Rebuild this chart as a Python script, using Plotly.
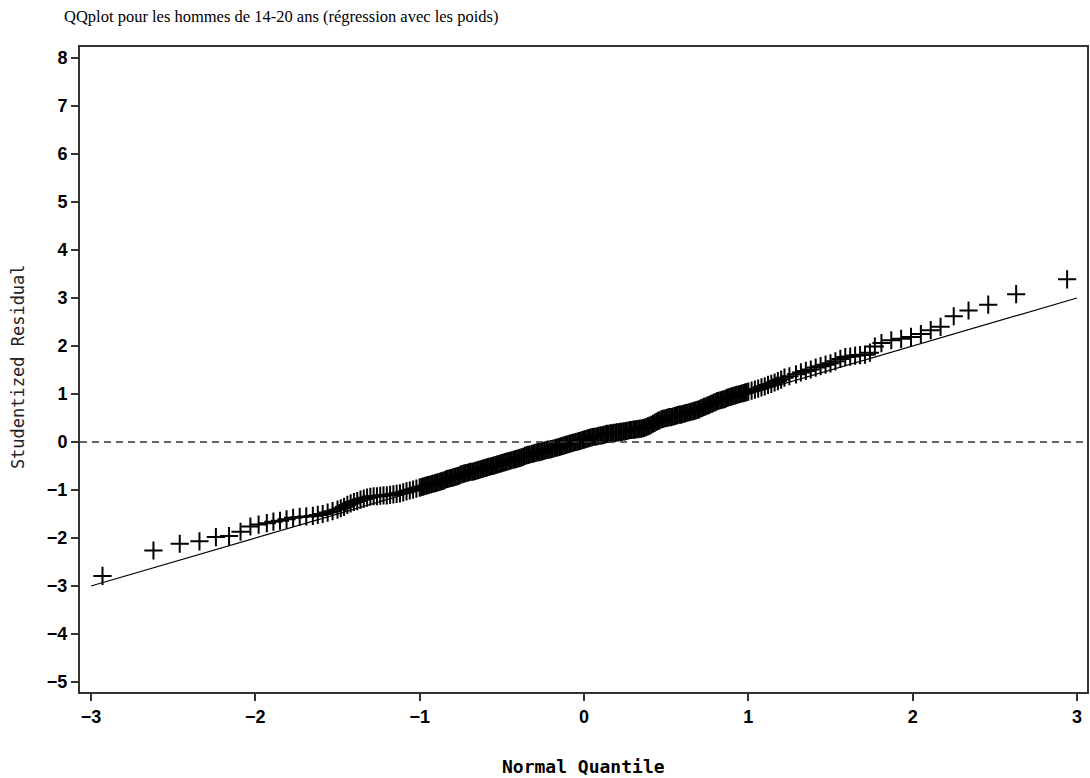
import plotly.graph_objects as go

# Normal quantiles (x) and studentized residuals (y)
quantile = [
    -2.93, -2.62, -2.46, -2.34, -2.24, -2.16, -2.09, -2.03, -1.98, -1.93,
    -1.89, -1.85, -1.81, -1.77, -1.73, -1.69, -1.65, -1.62, -1.59, -1.56,
    -1.53, -1.50, -1.48, -1.46, -1.44, -1.42, -1.40, -1.38, -1.36, -1.34,
    -1.32, -1.30, -1.28, -1.26, -1.24, -1.22, -1.20, -1.18, -1.16, -1.14,
    -1.12, -1.10, -1.08, -1.06, -1.04, -1.02,
    -1.00, -0.99, -0.98, -0.97, -0.96, -0.95, -0.94, -0.93, -0.92, -0.91,
    -0.90, -0.89, -0.88, -0.87, -0.86, -0.85, -0.84, -0.83, -0.82, -0.81,
    -0.80, -0.79, -0.78, -0.77, -0.76, -0.75, -0.74, -0.73, -0.72, -0.71,
    -0.70, -0.69, -0.68, -0.67, -0.66, -0.65, -0.64, -0.63, -0.62, -0.61,
    -0.60, -0.59, -0.58, -0.57, -0.56, -0.55, -0.54, -0.53, -0.52, -0.51,
    -0.50, -0.49, -0.48, -0.47, -0.46, -0.45, -0.44, -0.43, -0.42, -0.41,
    -0.40, -0.39, -0.38, -0.37, -0.36, -0.35, -0.34, -0.33, -0.32, -0.31,
    -0.30, -0.29, -0.28, -0.27, -0.26, -0.25, -0.24, -0.23, -0.22, -0.21,
    -0.20, -0.19, -0.18, -0.17, -0.16, -0.15, -0.14, -0.13, -0.12, -0.11,
    -0.10, -0.09, -0.08, -0.07, -0.06, -0.05, -0.04, -0.03, -0.02, -0.01,
    0.00, 0.01, 0.02, 0.03, 0.04, 0.05, 0.06, 0.07, 0.08, 0.09,
    0.10, 0.11, 0.12, 0.13, 0.14, 0.15, 0.16, 0.17, 0.18, 0.19,
    0.20, 0.21, 0.22, 0.23, 0.24, 0.25, 0.26, 0.27, 0.28, 0.29,
    0.30, 0.31, 0.32, 0.33, 0.34, 0.35, 0.36, 0.37, 0.38, 0.39,
    0.40, 0.41, 0.42, 0.43, 0.44, 0.45, 0.46, 0.47, 0.48, 0.49,
    0.50, 0.51, 0.52, 0.53, 0.54, 0.55, 0.56, 0.57, 0.58, 0.59,
    0.60, 0.61, 0.62, 0.63, 0.64, 0.65, 0.66, 0.67, 0.68, 0.69,
    0.70, 0.71, 0.72, 0.73, 0.74, 0.75, 0.76, 0.77, 0.78, 0.79,
    0.80, 0.81, 0.82, 0.83, 0.84, 0.85, 0.86, 0.87, 0.88, 0.89,
    0.90, 0.91, 0.92, 0.93, 0.94, 0.95, 0.96, 0.97, 0.98, 0.99,
    1.00, 1.02, 1.04, 1.06, 1.08, 1.10, 1.12, 1.14, 1.16, 1.18,
    1.20, 1.22, 1.25, 1.29, 1.32, 1.35, 1.38, 1.41, 1.44, 1.47,
    1.50, 1.53, 1.56, 1.59, 1.62, 1.65, 1.68, 1.71, 1.74, 1.77,
    1.81, 1.87, 1.93, 1.99, 2.05, 2.11, 2.17, 2.25, 2.34, 2.46,
    2.63, 2.94,
]
residual = [
    -2.79, -2.26, -2.12, -2.07, -1.98, -1.96, -1.87, -1.76, -1.72, -1.69,
    -1.66, -1.64, -1.61, -1.58, -1.56, -1.55, -1.54, -1.52, -1.50, -1.47,
    -1.44, -1.41, -1.38, -1.35, -1.31, -1.28, -1.25, -1.23, -1.20, -1.18,
    -1.16, -1.14, -1.13, -1.13, -1.12, -1.11, -1.11, -1.10, -1.09, -1.08,
    -1.07, -1.05, -1.03, -1.01, -0.99, -0.97,
    -0.95, -0.94, -0.93, -0.92, -0.91, -0.90, -0.89, -0.88, -0.87, -0.86,
    -0.85, -0.84, -0.83, -0.82, -0.81, -0.80, -0.78, -0.77, -0.76, -0.75,
    -0.74, -0.73, -0.72, -0.71, -0.70, -0.68, -0.67, -0.66, -0.65, -0.64,
    -0.63, -0.62, -0.62, -0.61, -0.60, -0.59, -0.58, -0.57, -0.56, -0.55,
    -0.54, -0.53, -0.52, -0.51, -0.50, -0.49, -0.48, -0.47, -0.46, -0.45,
    -0.44, -0.43, -0.42, -0.41, -0.40, -0.39, -0.38, -0.37, -0.36, -0.35,
    -0.34, -0.33, -0.32, -0.31, -0.29, -0.28, -0.27, -0.26, -0.25, -0.24,
    -0.23, -0.22, -0.21, -0.21, -0.20, -0.19, -0.18, -0.17, -0.16, -0.16,
    -0.15, -0.14, -0.13, -0.12, -0.11, -0.10, -0.09, -0.08, -0.07, -0.06,
    -0.05, -0.04, -0.03, -0.02, -0.01, 0.00, 0.01, 0.02, 0.03, 0.04,
    0.05, 0.06, 0.07, 0.08, 0.09, 0.10, 0.11, 0.11, 0.12, 0.13,
    0.14, 0.14, 0.15, 0.16, 0.17, 0.17, 0.18, 0.18, 0.19, 0.19,
    0.20, 0.20, 0.21, 0.21, 0.22, 0.22, 0.23, 0.24, 0.25, 0.25,
    0.26, 0.26, 0.27, 0.27, 0.28, 0.28, 0.29, 0.30, 0.31, 0.33,
    0.34, 0.36, 0.38, 0.40, 0.42, 0.44, 0.45, 0.47, 0.48, 0.49,
    0.50, 0.51, 0.52, 0.52, 0.53, 0.54, 0.55, 0.56, 0.57, 0.57,
    0.58, 0.59, 0.60, 0.61, 0.62, 0.63, 0.64, 0.65, 0.66, 0.67,
    0.68, 0.70, 0.71, 0.73, 0.74, 0.76, 0.77, 0.79, 0.80, 0.82,
    0.83, 0.85, 0.86, 0.87, 0.88, 0.89, 0.90, 0.92, 0.93, 0.94,
    0.95, 0.96, 0.97, 0.98, 0.99, 1.00, 1.01, 1.02, 1.03, 1.04,
    1.05, 1.07, 1.09, 1.11, 1.14, 1.16, 1.19, 1.21, 1.24, 1.27,
    1.30, 1.34, 1.37, 1.41, 1.45, 1.48, 1.51, 1.55, 1.58, 1.61,
    1.64, 1.68, 1.73, 1.77, 1.78, 1.80, 1.81, 1.82, 1.86, 1.99,
    2.06, 2.12, 2.15, 2.19, 2.25, 2.33, 2.40, 2.62, 2.74, 2.86,
    3.08, 3.39,
]

# Reference line
ref_x = [-3, 3]
ref_y = [-3, 3]

x_ticks = [-3, -2, -1, 0, 1, 2, 3]
y_ticks = [8, 7, 6, 5, 4, 3, 2, 1, 0, -1, -2, -3, -4, -5]

title_text = "QQplot pour les hommes de 14-20 ans (régression avec les poids)"
x_title = "Normal Quantile"
y_title = "Studentized Residual"

fig = go.Figure()

fig.add_trace(go.Scatter(
    x=ref_x, y=ref_y, mode="lines",
    line=dict(color="black", width=1.2),
    hoverinfo="skip", showlegend=False,
))

fig.add_trace(go.Scatter(
    x=quantile, y=residual, mode="markers",
    marker=dict(symbol="cross-thin", size=13, color="black",
                line=dict(color="black", width=2)),
    hoverinfo="skip", showlegend=False,
))

fig.add_hline(y=0, line=dict(color="#333333", width=1.5, dash="7px,5px"))

axis_common = dict(
    showgrid=False, zeroline=False,
    showline=True, mirror=True, linecolor="#333333", linewidth=2,
    ticks="outside", ticklen=7, tickwidth=1.5, tickcolor="#333333",
    tickfont=dict(family="Liberation Sans", size=18,
                  color="black", weight="bold"),
)

fig.update_xaxes(range=[-3.067, 3.061], tickvals=x_ticks,
                 ticktext=[str(v).replace("-", "\u2212") for v in x_ticks],
                 **axis_common)
fig.update_yaxes(range=[-5.208, 8.229], tickvals=y_ticks,
                 ticktext=[str(v).replace("-", "\u2212") for v in y_ticks],
                 **axis_common)

fig.add_annotation(
    text=y_title, xref="paper", yref="paper",
    x=(18 - 80) / 1009, y=(692 - 367) / 645,
    xanchor="center", yanchor="middle", textangle=-90, showarrow=False,
    font=dict(family="DejaVu Sans Mono, monospace", size=17, color="#222222"),
)
fig.add_annotation(
    text=x_title, xref="paper", yref="paper",
    x=(585 - 80) / 1009, y=(692 - 766) / 645,
    xanchor="center", yanchor="middle", showarrow=False,
    font=dict(family="DejaVu Sans Mono, monospace", size=18, color="black",
              weight="bold"),
)

fig.update_layout(
    width=1090, height=778,
    margin=dict(l=80, r=1, t=47, b=86),
    paper_bgcolor="white", plot_bgcolor="white",
    title=dict(text=title_text, xref="container", yref="container",
               x=64 / 1090, y=1 - 16 / 778, xanchor="left", yanchor="middle",
               font=dict(family="Liberation Serif, Times New Roman, serif",
                         size=16.5, color="black")),
    showlegend=False,
)

fig.write_html("out.html")
